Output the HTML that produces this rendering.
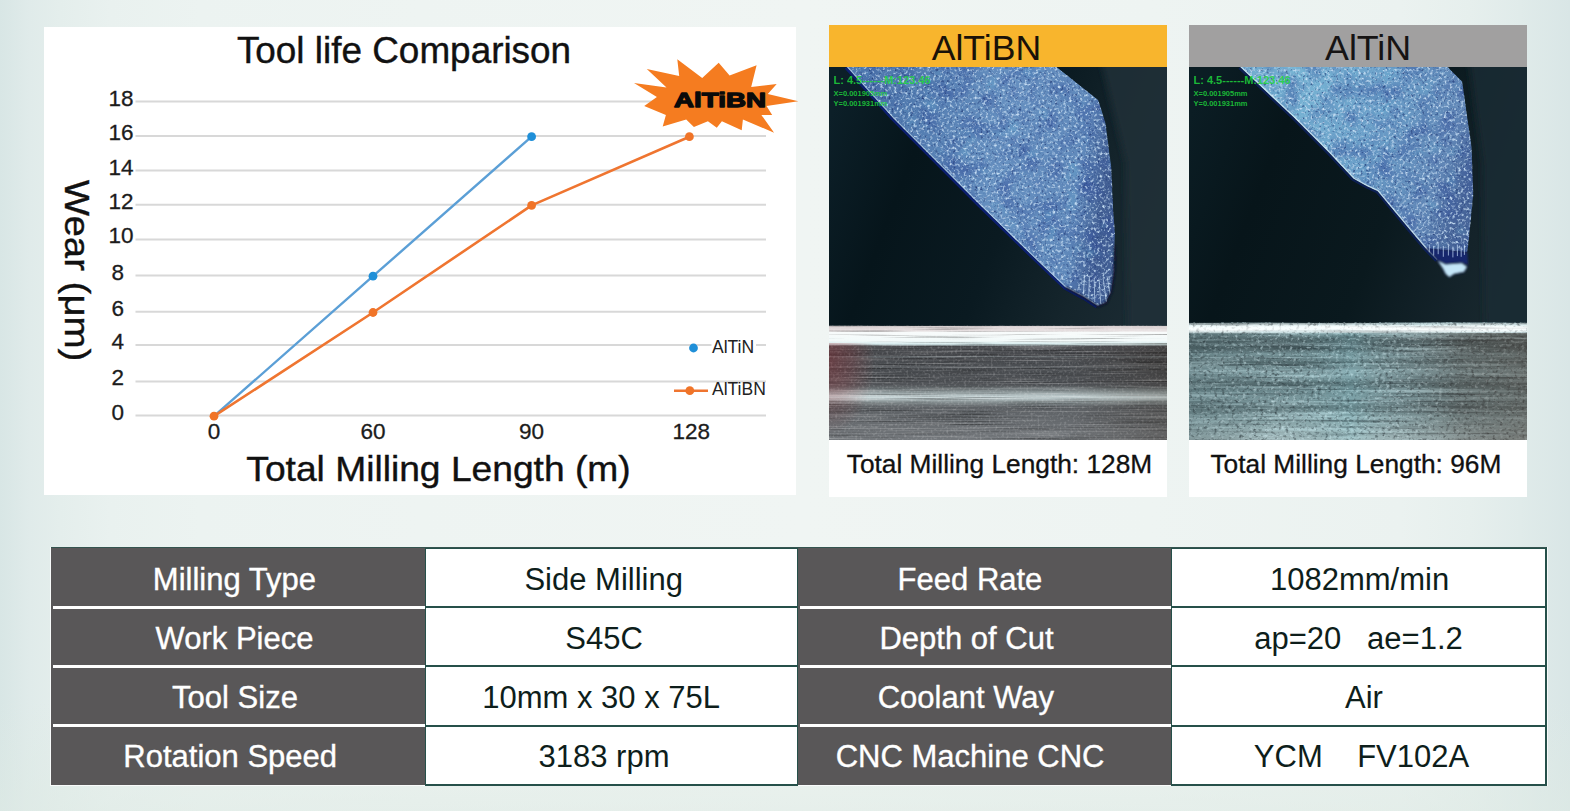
<!DOCTYPE html>
<html lang="en">
<head>
<meta charset="utf-8">
<title>Tool life Comparison</title>
<style>
html,body{margin:0;padding:0;}
body{width:1570px;height:811px;overflow:hidden;position:relative;
  font-family:"Liberation Sans",Arial,sans-serif;color:#111;
  background:
    linear-gradient(180deg,rgba(222,234,228,0) 0px,rgba(222,234,228,0) 700px,rgba(222,234,228,0.55) 811px),
    linear-gradient(90deg,#d8e6e5 0px,#e0ebea 30px,#e4eeec 60px,#e9f1ef 110px,#ecf3f1 200px,#eef4f2 420px,#f0f5f3 800px,#eef4f2 1150px,#ebf2f0 1400px,#e6efed 1470px,#e0ebea 1520px,#d9e6e6 1570px);
}
#art{position:absolute;left:0;top:0;width:1570px;height:811px;}
.panel{position:absolute;background:#fff;}
/* table */
.cell{position:absolute;box-sizing:border-box;display:flex;align-items:center;justify-content:center;
  font-size:29px;white-space:pre;}
.dk{background:#595758;color:#fff;}
.lt{background:#fff;color:#1a1a1a;border:2px solid #26504a;border-left-width:1px;border-right-width:1px;}
.lt.last{border-right-width:2px;}
.sep{position:absolute;background:#fff;height:3px;}
</style>
</head>
<body>
<!-- white panels -->
<div class="panel" style="left:44px;top:27px;width:752px;height:468px;"></div>
<div class="panel" style="left:829px;top:25px;width:338px;height:472px;"></div>
<div class="panel" style="left:1189px;top:25px;width:338px;height:472px;"></div>

<div id="tbl">
<div style="position:absolute;left:50px;top:546.6px;width:1497.6px;height:239.8px;background:rgba(255,255,255,.75);"></div>
<div class="cell dk" style="left:51px;top:547.60px;width:374.5px;height:59.35px;"></div>
<div class="cell lt" style="left:424.5px;top:546.70px;width:373.5px;height:61.35px;"></div>
<div class="cell dk" style="left:798px;top:547.60px;width:374px;height:59.35px;"></div>
<div class="cell lt last" style="left:1171px;top:546.70px;width:375.5999999999999px;height:61.35px;"></div>
<div class="cell dk" style="left:51px;top:606.95px;width:374.5px;height:59.35px;"></div>
<div class="cell lt" style="left:424.5px;top:606.05px;width:373.5px;height:61.35px;"></div>
<div class="cell dk" style="left:798px;top:606.95px;width:374px;height:59.35px;"></div>
<div class="cell lt last" style="left:1171px;top:606.05px;width:375.5999999999999px;height:61.35px;"></div>
<div class="cell dk" style="left:51px;top:666.30px;width:374.5px;height:59.35px;"></div>
<div class="cell lt" style="left:424.5px;top:665.40px;width:373.5px;height:61.35px;"></div>
<div class="cell dk" style="left:798px;top:666.30px;width:374px;height:59.35px;"></div>
<div class="cell lt last" style="left:1171px;top:665.40px;width:375.5999999999999px;height:61.35px;"></div>
<div class="cell dk" style="left:51px;top:725.65px;width:374.5px;height:59.35px;"></div>
<div class="cell lt" style="left:424.5px;top:724.75px;width:373.5px;height:61.35px;"></div>
<div class="cell dk" style="left:798px;top:725.65px;width:374px;height:59.35px;"></div>
<div class="cell lt last" style="left:1171px;top:724.75px;width:375.5999999999999px;height:61.35px;"></div>
<div class="sep" style="left:53px;top:605.65px;width:371.5px;"></div>
<div class="sep" style="left:800px;top:605.65px;width:371px;"></div>
<div class="sep" style="left:53px;top:665.00px;width:371.5px;"></div>
<div class="sep" style="left:800px;top:665.00px;width:371px;"></div>
<div class="sep" style="left:53px;top:724.35px;width:371.5px;"></div>
<div class="sep" style="left:800px;top:724.35px;width:371px;"></div>
<div id="tealtop" style="position:absolute;left:51px;top:547.1px;width:1495px;height:1.2px;background:#35544f;"></div>
</div>
<svg id="art" viewBox="0 0 1570 811" width="1570" height="811" font-family="'Liberation Sans',Arial,sans-serif">
<!--CHART-->
<g id="chart">
<line x1="135.5" x2="766" y1="415.5" y2="415.5" stroke="#d8d8d8" stroke-width="2"/>
<line x1="135.5" x2="766" y1="381.4" y2="381.4" stroke="#d8d8d8" stroke-width="2"/>
<line x1="135.5" x2="766" y1="344.9" y2="344.9" stroke="#d8d8d8" stroke-width="2"/>
<line x1="135.5" x2="766" y1="311.8" y2="311.8" stroke="#d8d8d8" stroke-width="2"/>
<line x1="135.5" x2="766" y1="275.5" y2="275.5" stroke="#d8d8d8" stroke-width="2"/>
<line x1="135.5" x2="766" y1="239.4" y2="239.4" stroke="#d8d8d8" stroke-width="2"/>
<line x1="135.5" x2="766" y1="204.7" y2="204.7" stroke="#d8d8d8" stroke-width="2"/>
<line x1="135.5" x2="766" y1="170.6" y2="170.6" stroke="#d8d8d8" stroke-width="2"/>
<line x1="135.5" x2="766" y1="136.0" y2="136.0" stroke="#d8d8d8" stroke-width="2"/>
<line x1="135.5" x2="766" y1="101.5" y2="101.5" stroke="#d8d8d8" stroke-width="2"/>
<text x="117.8" y="419.5" font-size="22.5" text-anchor="middle" fill="#1c1c1c" stroke="#1c1c1c" stroke-width="0.3">0</text>
<text x="117.8" y="385.4" font-size="22.5" text-anchor="middle" fill="#1c1c1c" stroke="#1c1c1c" stroke-width="0.3">2</text>
<text x="117.8" y="348.9" font-size="22.5" text-anchor="middle" fill="#1c1c1c" stroke="#1c1c1c" stroke-width="0.3">4</text>
<text x="117.8" y="315.8" font-size="22.5" text-anchor="middle" fill="#1c1c1c" stroke="#1c1c1c" stroke-width="0.3">6</text>
<text x="117.8" y="279.5" font-size="22.5" text-anchor="middle" fill="#1c1c1c" stroke="#1c1c1c" stroke-width="0.3">8</text>
<text x="121" y="243.4" font-size="22.5" text-anchor="middle" fill="#1c1c1c" stroke="#1c1c1c" stroke-width="0.3">10</text>
<text x="121" y="208.7" font-size="22.5" text-anchor="middle" fill="#1c1c1c" stroke="#1c1c1c" stroke-width="0.3">12</text>
<text x="121" y="174.6" font-size="22.5" text-anchor="middle" fill="#1c1c1c" stroke="#1c1c1c" stroke-width="0.3">14</text>
<text x="121" y="140.0" font-size="22.5" text-anchor="middle" fill="#1c1c1c" stroke="#1c1c1c" stroke-width="0.3">16</text>
<text x="121" y="105.5" font-size="22.5" text-anchor="middle" fill="#1c1c1c" stroke="#1c1c1c" stroke-width="0.3">18</text>
<text x="214" y="439.3" font-size="22.5" text-anchor="middle" fill="#1c1c1c" stroke="#1c1c1c" stroke-width="0.3">0</text>
<text x="373" y="439.3" font-size="22.5" text-anchor="middle" fill="#1c1c1c" stroke="#1c1c1c" stroke-width="0.3">60</text>
<text x="531.6" y="439.3" font-size="22.5" text-anchor="middle" fill="#1c1c1c" stroke="#1c1c1c" stroke-width="0.3">90</text>
<text x="691.2" y="439.3" font-size="22.5" text-anchor="middle" fill="#1c1c1c" stroke="#1c1c1c" stroke-width="0.3">128</text>
<text x="404" y="63" font-size="36.9" text-anchor="middle" fill="#111" stroke="#111" stroke-width="0.4">Tool life Comparison</text>
<text transform="translate(438.5,480.8) scale(1,0.95)" font-size="37.2" text-anchor="middle" fill="#111" stroke="#111" stroke-width="0.4">Total Milling Length (m)</text>
<text transform="translate(65,270.6) rotate(90) scale(1.033,0.93)" font-size="37.2" text-anchor="middle" fill="#111" stroke="#111" stroke-width="0.4">Wear (μm)</text>
<polyline points="214,416.2 373,276.2 531.6,136.7" fill="none" stroke="#5b9fd6" stroke-width="2.4" stroke-linejoin="round"/>
<polyline points="214,416.2 373,312.5 531.6,205.4 689.4,136.7" fill="none" stroke="#ef7530" stroke-width="2.6" stroke-linejoin="round"/>
<circle cx="373" cy="276.2" r="4.4" fill="#1f8fd8"/>
<circle cx="531.6" cy="136.7" r="4.4" fill="#1f8fd8"/>
<circle cx="214" cy="416.2" r="4.4" fill="#f07428"/>
<circle cx="373" cy="312.5" r="4.4" fill="#f07428"/>
<circle cx="531.6" cy="205.4" r="4.4" fill="#f07428"/>
<circle cx="689.4" cy="136.7" r="4.4" fill="#f07428"/>
<rect x="711.5" y="338" width="44.5" height="17" fill="#fff"/>
<rect x="711.5" y="383" width="56" height="14" fill="#fff"/>
<circle cx="693.5" cy="348" r="4.4" fill="#1f8fd8"/>
<text x="712" y="353" font-size="17.5" fill="#222">AlTiN</text>
<line x1="674" x2="708" y1="390.7" y2="390.7" stroke="#ef7530" stroke-width="2.6"/>
<circle cx="689.8" cy="390.7" r="4.4" fill="#f07428"/>
<text x="712" y="395" font-size="17.5" fill="#222">AlTiBN</text>
<polygon points="634.0,83.1 666.5,87.6 646.8,69.1 679.2,76.1 677.3,59.2 702.2,78.0 718.7,62.7 729.6,75.5 756.6,65.3 751.2,86.9 776.7,84.1 767.8,93.9 798.3,101.2 766.5,106.1 772.2,115.0 761.4,115.0 774.1,132.8 742.9,119.4 741.7,130.3 721.9,121.3 716.8,127.7 707.9,121.3 693.9,127.1 686.2,119.4 662.7,126.4 665.9,115.0 644.2,106.1 656.9,97.1" fill="#f57c20"/>
<text x="720" y="106.8" font-size="21" font-weight="bold" text-anchor="middle" textLength="92" lengthAdjust="spacingAndGlyphs" fill="#0a0a0a" stroke="#0a0a0a" stroke-width="1.3" stroke-linejoin="round">AlTiBN</text>
</g>
<!--/CHART-->
<!--PHOTOS-->
<defs>
<filter id="spk" x="0" y="0" width="100%" height="100%" color-interpolation-filters="sRGB">
 <feTurbulence type="fractalNoise" baseFrequency="0.36" numOctaves="2" seed="7" result="n"/>
 <feColorMatrix in="n" type="matrix" values="0 0 0 0 0  0 0 0 0 0  0 0 0 0 0  3.2 0 0 0 -1.62" result="na"/>
 <feFlood flood-color="#c4dcf2" result="w"/>
 <feComposite in="w" in2="na" operator="in" result="wn"/>
 <feColorMatrix in="n" type="matrix" values="0 0 0 0 0  0 0 0 0 0  0 0 0 0 0  0 -3.0 0 0 1.25" result="da"/>
 <feFlood flood-color="#243c78" result="d"/>
 <feComposite in="d" in2="da" operator="in" result="dn"/>
 <feTurbulence type="fractalNoise" baseFrequency="0.05" numOctaves="2" seed="2" result="lf"/>
 <feColorMatrix in="lf" type="matrix" values="0 0 0 0 0  0 0 0 0 0  0 0 0 0 0  0 0 1.4 0 -0.62" result="la"/>
 <feFlood flood-color="#34509a" result="l"/>
 <feComposite in="l" in2="la" operator="in" result="ln"/>
 <feColorMatrix in="lf" type="matrix" values="0 0 0 0 0  0 0 0 0 0  0 0 0 0 0  -1.4 0 0 0 0.55" result="ca"/>
 <feFlood flood-color="#6fb6d8" result="c"/>
 <feComposite in="c" in2="ca" operator="in" result="cn"/>
 <feMerge result="m"><feMergeNode in="SourceGraphic"/><feMergeNode in="ln"/><feMergeNode in="cn"/><feMergeNode in="dn"/><feMergeNode in="wn"/></feMerge>
 <feGaussianBlur in="m" stdDeviation="0.6" result="mb"/>
 <feComposite in="mb" in2="SourceAlpha" operator="in"/>
</filter>
<filter id="streak1" x="0" y="0" width="100%" height="100%" color-interpolation-filters="sRGB">
 <feTurbulence type="fractalNoise" baseFrequency="0.01 0.7" numOctaves="2" seed="3" result="n"/>
 <feColorMatrix in="n" type="matrix" values="0 0 0 0 1  0 0 0 0 1  0 0 0 0 1  0.8 0 0 0 -0.42" result="na"/>
 <feColorMatrix in="n" type="matrix" values="0 0 0 0 0  0 0 0 0 0  0 0 0 0 0  0 -1.0 0 0 0.48" result="nd"/>
 <feTurbulence type="fractalNoise" baseFrequency="0.45 0.45" numOctaves="1" seed="11" result="g"/>
 <feColorMatrix in="g" type="matrix" values="0 0 0 0 1  0 0 0 0 1  0 0 0 0 1  0 0.6 0 0 -0.3" result="ga"/>
 <feMerge result="m"><feMergeNode in="SourceGraphic"/><feMergeNode in="nd"/><feMergeNode in="na"/><feMergeNode in="ga"/></feMerge>
 <feGaussianBlur in="m" stdDeviation="0.5"/>
</filter>
<filter id="streak2" x="0" y="0" width="100%" height="100%" color-interpolation-filters="sRGB">
 <feTurbulence type="fractalNoise" baseFrequency="0.008 0.3" numOctaves="3" seed="5" result="n"/>
 <feColorMatrix in="n" type="matrix" values="0 0 0 0 0.82  0 0 0 0 0.95  0 0 0 0 0.97  1.6 0 0 0 -0.76" result="na"/>
 <feColorMatrix in="n" type="matrix" values="0 0 0 0 0.12  0 0 0 0 0.16  0 0 0 0 0.18  0 -1.8 0 0 0.82" result="nd"/>
 <feTurbulence type="fractalNoise" baseFrequency="0.28 0.34" numOctaves="2" seed="21" result="g"/>
 <feColorMatrix in="g" type="matrix" values="0 0 0 0 0.88  0 0 0 0 0.98  0 0 0 0 1  0 1.7 0 0 -0.9" result="ga"/>
 <feColorMatrix in="g" type="matrix" values="0 0 0 0 0.14  0 0 0 0 0.18  0 0 0 0 0.2  0 0 -1.9 0 0.9" result="gd"/>
 <feMerge result="m"><feMergeNode in="SourceGraphic"/><feMergeNode in="nd"/><feMergeNode in="na"/><feMergeNode in="gd"/><feMergeNode in="ga"/></feMerge>
 <feGaussianBlur in="m" stdDeviation="0.7"/>
</filter>
<filter id="blur3" x="-20%" y="-20%" width="140%" height="140%"><feGaussianBlur stdDeviation="3"/></filter>
<filter id="blur1" x="-20%" y="-20%" width="140%" height="140%"><feGaussianBlur stdDeviation="0.8"/></filter>
<linearGradient id="bg1" gradientUnits="userSpaceOnUse" x1="829" y1="120" x2="1167" y2="250">
 <stop offset="0" stop-color="#0c1f28"/><stop offset="0.25" stop-color="#06151b"/><stop offset="0.55" stop-color="#0a1a21"/><stop offset="0.8" stop-color="#15252c"/><stop offset="1" stop-color="#1b2b33"/>
</linearGradient>
<linearGradient id="bg2" gradientUnits="userSpaceOnUse" x1="1189" y1="120" x2="1527" y2="250">
 <stop offset="0" stop-color="#0b1d24"/><stop offset="0.25" stop-color="#07151a"/><stop offset="0.6" stop-color="#0a191e"/><stop offset="0.85" stop-color="#14232a"/><stop offset="1" stop-color="#19292f"/>
</linearGradient>
<linearGradient id="tg1" gradientUnits="userSpaceOnUse" x1="900" y1="120" x2="1110" y2="150">
 <stop offset="0" stop-color="#5079ae"/><stop offset="0.5" stop-color="#6690c0"/><stop offset="0.88" stop-color="#5f88ba"/><stop offset="1" stop-color="#425f94"/>
</linearGradient>
<linearGradient id="tg2" gradientUnits="userSpaceOnUse" x1="1290" y1="100" x2="1475" y2="160">
 <stop offset="0" stop-color="#78b4d4"/><stop offset="0.45" stop-color="#6a9ec8"/><stop offset="0.85" stop-color="#6086b6"/><stop offset="1" stop-color="#48669a"/>
</linearGradient>
<linearGradient id="m1" x1="0" y1="0" x2="0" y2="1">
 <stop offset="0" stop-color="#d8cfd0"/><stop offset="0.045" stop-color="#e6dfe0"/><stop offset="0.055" stop-color="#f8fbfb"/><stop offset="0.13" stop-color="#f2fafa"/><stop offset="0.16" stop-color="#d4eaec"/>
 <stop offset="0.18" stop-color="#4e5054"/><stop offset="0.26" stop-color="#46484c"/><stop offset="0.27" stop-color="#686e72"/><stop offset="0.285" stop-color="#484a4e"/>
 <stop offset="0.35" stop-color="#4b4e52"/><stop offset="0.36" stop-color="#62666a"/><stop offset="0.375" stop-color="#484b4f"/>
 <stop offset="0.52" stop-color="#505357"/><stop offset="0.57" stop-color="#808a8c"/><stop offset="0.625" stop-color="#cbd9db"/><stop offset="0.665" stop-color="#8a9496"/>
 <stop offset="0.71" stop-color="#5c6064"/><stop offset="1" stop-color="#74787c"/>
</linearGradient>
<radialGradient id="m1x" gradientUnits="userSpaceOnUse" cx="829" cy="362" r="46" gradientTransform="translate(829,365) scale(1,1.6) translate(-829,-365)">
 <stop offset="0" stop-color="#a02830" stop-opacity="0.34"/><stop offset="0.5" stop-color="#a02830" stop-opacity="0.2"/><stop offset="1" stop-color="#a03030" stop-opacity="0"/>
</radialGradient>
<linearGradient id="m1r" x1="0" y1="0" x2="1" y2="0">
 <stop offset="0.7" stop-color="#201000" stop-opacity="0"/><stop offset="1" stop-color="#201000" stop-opacity="0.18"/>
</linearGradient>
<linearGradient id="m2" x1="0" y1="0" x2="0" y2="1">
 <stop offset="0" stop-color="#8a9a9c"/><stop offset="0.025" stop-color="#e8f6f6"/><stop offset="0.045" stop-color="#ffffff"/><stop offset="0.075" stop-color="#e2f2f3"/><stop offset="0.095" stop-color="#6a8488"/>
 <stop offset="0.15" stop-color="#52676b"/><stop offset="0.22" stop-color="#4f6468"/><stop offset="0.27" stop-color="#7a979c"/><stop offset="0.34" stop-color="#566d71"/><stop offset="0.40" stop-color="#86a4a9"/>
 <stop offset="0.47" stop-color="#7a979c"/><stop offset="0.52" stop-color="#52686c"/><stop offset="0.58" stop-color="#6f8c91"/><stop offset="0.65" stop-color="#809ea3"/><stop offset="0.72" stop-color="#5e767a"/>
 <stop offset="0.80" stop-color="#86a3a7"/><stop offset="0.9" stop-color="#98b2b5"/><stop offset="1" stop-color="#a0b6b8"/>
</linearGradient>
<linearGradient id="m2x" x1="0" y1="0" x2="1" y2="0">
 <stop offset="0" stop-color="#3c5054" stop-opacity="0.3"/><stop offset="0.25" stop-color="#3c5054" stop-opacity="0.05"/><stop offset="0.48" stop-color="#7ccad6" stop-opacity="0.16"/><stop offset="0.6" stop-color="#6a7070" stop-opacity="0.1"/>
 <stop offset="0.8" stop-color="#4a403a" stop-opacity="0.4"/><stop offset="1" stop-color="#4c3e36" stop-opacity="0.5"/>
</linearGradient>
<clipPath id="c1"><rect x="829" y="67" width="338" height="259"/></clipPath>
<clipPath id="c2"><rect x="1189" y="67" width="338" height="256"/></clipPath>
</defs>
<rect x="829" y="25" width="338" height="42.5" fill="#f8b52d"/>
<rect x="1189" y="25" width="338" height="42.5" fill="#a1a0a0"/>
<text x="986.4" y="59.6" font-size="35.6" text-anchor="middle" fill="#1a1208">AlTiBN</text>
<text x="1368.1" y="59.6" font-size="35.8" text-anchor="middle" fill="#161414">AlTiN</text>
<g clip-path="url(#c1)">
<rect x="829" y="67" width="338" height="259" fill="url(#bg1)"/>
<polygon points="1100.6,60.6 1174.0,60.6 1174.0,332.2 1127.7,332.2 1125.5,162.8" fill="#1e2f39" fill-opacity="0.8" filter="url(#blur3)"/>
<polygon points="846.6,67.0 1056.8,67.0 1098.3,99.9 1105.7,123.5 1111.4,168.0 1113.3,209.5 1114.9,233.1 1114.3,271.5 1111.7,290.6 1106.3,302.8 1098.0,306.6 1084.6,297.7 1065.4,287.4 1033.5,257.1 979.2,204.4 892.9,118.1" fill="url(#tg1)" filter="url(#spk)"/>
<polyline points="846.6,67.0 892.9,118.1 979.2,204.4 1033.5,257.1 1065.4,287.4 1084.6,297.7 1097.4,306.0" fill="none" stroke="#0c1f78" stroke-opacity="0.9" stroke-width="2.4" transform="translate(-0.9,0.9)"/>
<polyline points="846.6,67.0 892.9,118.1 979.2,204.4 1033.5,257.1 1065.4,287.4 1084.6,297.7 1097.4,306.0" fill="none" stroke="#cfe8ff" stroke-opacity="0.6" stroke-width="1.2" transform="translate(0.5,-0.5)"/>
<polyline points="1114.9,245.9 1114.3,271.5 1111.7,290.6 1106.3,302.8 1098.0,306.6 1084.6,297.7 1065.4,287.4" fill="none" stroke="#0b1630" stroke-width="2.2" filter="url(#blur1)"/>
<clipPath id="t1"><polygon points="846.6,67.0 1056.8,67.0 1098.3,99.9 1105.7,123.5 1111.4,168.0 1113.3,209.5 1114.9,233.1 1114.3,271.5 1111.7,290.6 1106.3,302.8 1098.0,306.6 1084.6,297.7 1065.4,287.4 1033.5,257.1 979.2,204.4 892.9,118.1"/></clipPath>
<path d="M1084.6,274.7L1083.3,294.5M1089.4,276.3L1088.7,298.3M1094.2,277.9L1094.8,302.1M1099.0,278.5L1100.9,304.1M1103.1,277.9L1106.3,301.5M1107.0,276.3L1110.8,297.7" stroke="#d6ecff" stroke-opacity="0.6" stroke-width="1" fill="none" clip-path="url(#t1)"/>
<g font-size="7.5" font-weight="bold" fill="#1fd63c" fill-opacity="0.85"><text x="833.5" y="83.5" font-size="11">L: 4.5------M:123.46</text><text x="833.5" y="95.5">X=0.001905mm</text><text x="833.5" y="105.5">Y=0.001931mm</text></g>
</g>
<g><rect x="829" y="325.9" width="338" height="114.1" fill="url(#m1)" filter="url(#streak1)"/><rect x="829" y="343" width="338" height="97" fill="url(#m1x)"/><rect x="829" y="343" width="338" height="97" fill="url(#m1r)"/></g>
<g clip-path="url(#c2)">
<rect x="1189" y="67" width="338" height="259" fill="url(#bg2)"/>
<polygon points="1468.6,60.6 1534.0,60.6 1534.0,332.2 1484.5,332.2 1482.3,162.8" fill="#1b2b32" fill-opacity="0.8" filter="url(#blur3)"/>
<polygon points="1240.1,67.0 1447.8,67.0 1462.2,81.4 1471.7,146.9 1473.3,194.8 1469.2,237.0 1467.3,252.3 1425.7,248.5 1412.6,233.1 1377.5,191.0 1366.3,185.8 1353.5,178.8 1329.6,153.3 1294.4,118.1" fill="url(#tg2)" filter="url(#spk)"/>
<polyline points="1240.1,67.0 1294.4,118.1 1329.6,153.3 1353.5,178.8 1366.3,185.8 1377.5,191.0 1412.6,233.1 1425.7,248.5 1436.9,260.0" fill="none" stroke="#0c2060" stroke-opacity="0.8" stroke-width="2.2" transform="translate(-0.9,0.9)"/>
<polyline points="1240.1,67.0 1294.4,118.1 1329.6,153.3 1353.5,178.8 1366.3,185.8 1377.5,191.0 1412.6,233.1 1425.7,248.5 1436.9,260.0" fill="none" stroke="#e0f6ff" stroke-opacity="0.7" stroke-width="1.4" transform="translate(0.5,-0.5)"/>
<polygon points="1425.7,247.8 1467.3,251.7 1468.2,265.1 1461.5,262.8 1445.5,264.1 1436.9,260.0" fill="#18286c" filter="url(#blur1)"/>
<path d="M1429.3,244.6V252.3M1433.7,245.9V255.5M1438.2,243.4V254.2M1443.3,245.9V256.8M1448.4,244.6V255.5M1452.9,246.6V257.4M1457.4,244.6V256.1M1461.2,246.6V256.8M1464.4,244.6V254.9" stroke="#cfe6ff" stroke-opacity="0.75" stroke-width="0.9" fill="none"/>
<polygon points="1436.9,259.8 1445.5,264.1 1461.7,262.8 1467.3,266.7 1464.1,272.1 1454.2,274.0 1449.4,277.2 1445.5,274.0 1443.0,268.9" fill="#c4e6f8" stroke="#0e1e5a" stroke-width="1" filter="url(#blur1)"/>
<g font-size="7.5" font-weight="bold" fill="#1fd63c" fill-opacity="0.85"><text x="1193.5" y="83.5" font-size="11">L: 4.5------M:123.46</text><text x="1193.5" y="95.5">X=0.001905mm</text><text x="1193.5" y="105.5">Y=0.001931mm</text></g>
</g>
<g><rect x="1189" y="322.9" width="338" height="117.1" fill="url(#m2)" filter="url(#streak2)"/><rect x="1189" y="333" width="338" height="107" fill="url(#m2x)"/><rect x="1189" y="326" width="338" height="5.5" fill="#fbffff" fill-opacity="0.72" filter="url(#blur1)"/></g>
<text x="999.5" y="472.9" font-size="26.3" text-anchor="middle" fill="#111" stroke="#111" stroke-width="0.3">Total Milling Length: 128M</text>
<text x="1355.9" y="472.9" font-size="26.3" text-anchor="middle" fill="#111" stroke="#111" stroke-width="0.3">Total Milling Length: 96M</text>
<!--TBLTEXT-->
<g id="tbltext" font-size="31" text-anchor="middle" style="white-space:pre">
<text x="234.4" y="590.4" fill="#fff" stroke="#fff" stroke-width="0.35">Milling Type</text>
<text x="603.7" y="590.4" fill="#0e1e1b">Side Milling</text>
<text x="970" y="590.4" fill="#fff" stroke="#fff" stroke-width="0.35">Feed Rate</text>
<text x="1359.6" y="590.4" fill="#0e1e1b">1082mm/min</text>
<text x="234.5" y="649.2" fill="#fff" stroke="#fff" stroke-width="0.35">Work Piece</text>
<text x="604.1" y="649.2" fill="#0e1e1b">S45C</text>
<text x="966.5" y="649.2" fill="#fff" stroke="#fff" stroke-width="0.35">Depth of Cut</text>
<text x="1358.5" y="649.2" fill="#0e1e1b">ap=20&#160;&#160;&#160;ae=1.2</text>
<text x="235" y="708" fill="#fff" stroke="#fff" stroke-width="0.35">Tool Size</text>
<text x="601.1" y="708" fill="#0e1e1b">10mm x 30 x 75L</text>
<text x="965.9" y="708" fill="#fff" stroke="#fff" stroke-width="0.35">Coolant Way</text>
<text x="1364" y="708" fill="#0e1e1b">Air</text>
<text x="230.2" y="766.6" fill="#fff" stroke="#fff" stroke-width="0.35">Rotation Speed</text>
<text x="604" y="766.6" fill="#0e1e1b">3183 rpm</text>
<text x="970.1" y="766.6" fill="#fff" stroke="#fff" stroke-width="0.35">CNC Machine CNC</text>
<text x="1361.5" y="766.6" fill="#0e1e1b">YCM&#160;&#160;&#160;&#160;FV102A</text>
</g>
<!--/TBLTEXT-->
</svg>

<!--TABLE-->
</body>
</html>
